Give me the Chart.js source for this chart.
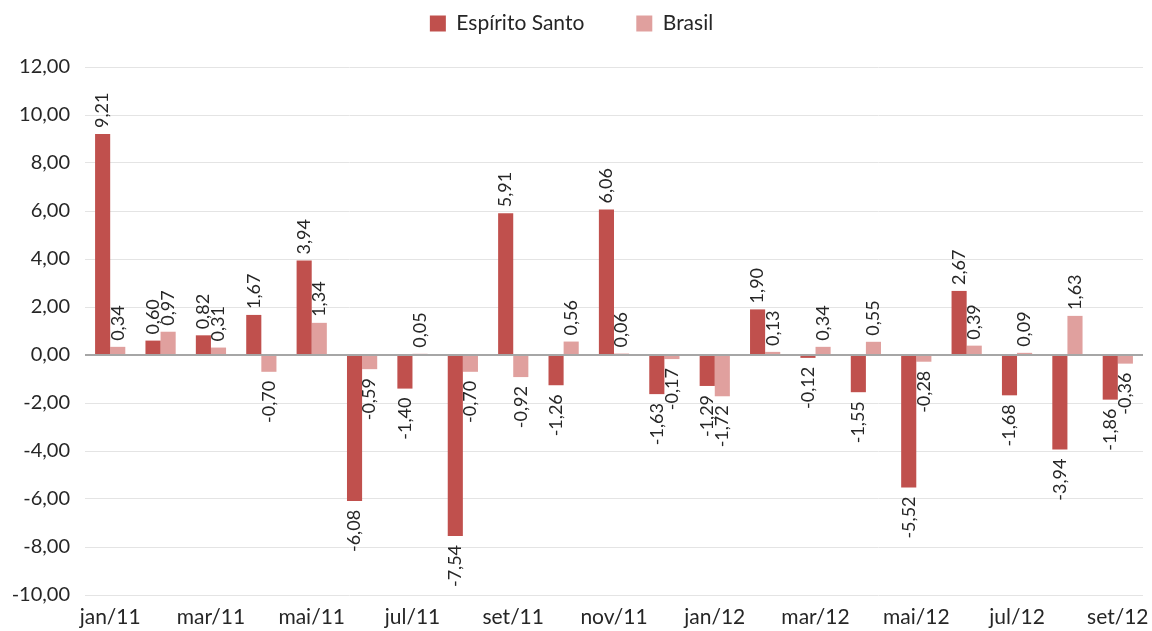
<!DOCTYPE html>
<html>
<head>
<meta charset="utf-8">
<script src="https://cdn.jsdelivr.net/npm/chart.js@4"></script>
<style>
  html, body { margin: 0; padding: 0; background: #fff; }
  #wrap { width: 1152px; height: 631px; }
</style>
</head>
<body>
<div id="wrap"><canvas id="grafico"></canvas></div>
<script>
// dados
const meses = ['jan/11', 'fev/11', 'mar/11', 'abr/11', 'mai/11', 'jun/11', 'jul/11', 'ago/11', 'set/11', 'out/11', 'nov/11', 'dez/11',
               'jan/12', 'fev/12', 'mar/12', 'abr/12', 'mai/12', 'jun/12', 'jul/12', 'ago/12', 'set/12'];
const espiritoSanto = [9.21, 0.60, 0.82, 1.67, 3.94, -6.08, -1.40, -7.54, 5.91, -1.26, 6.06, -1.63,
                       -1.29, 1.90, -0.12, -1.55, -5.52, 2.67, -1.68, -3.94, -1.86];
const brasil = [0.34, 0.97, 0.31, -0.70, 1.34, -0.59, 0.05, -0.70, -0.92, 0.56, 0.06, -0.17,
                -1.72, 0.13, 0.34, 0.55, -0.28, 0.39, 0.09, 1.63, -0.36];
const yTicks = [-10, -8, -6, -4, -2, 0, 2, 4, 6, 8, 10, 12];

const fonte = 'Lato, "Open Sans", sans-serif';
const corTexto = '#262626';
const fmt = v => v.toFixed(2).replace('.', ',');

// legenda: altura fixa para a área do gráfico começar em y=67
const PAD_TOPO = -39;
const LEG_PAD = 52;
const alturaLegenda = {
    id: 'alturaLegenda',
    beforeLayout(chart) {
        const lg = chart.legend;
        if (lg && !lg._fixo) {
            const fitOrig = lg.fit;
            lg.fit = function () {
                fitOrig.call(this);
                this.height = 67 - PAD_TOPO;
            };
            lg._fixo = true;
        }
    }
};

// rótulos verticais em cima/baixo das barras
const rotulos = {
    id: 'rotulos',
    afterDatasetsDraw(chart) {
        const ctx = chart.ctx;
        ctx.save();
        ctx.font = '18px ' + fonte;
        ctx.fillStyle = corTexto;
        ctx.textBaseline = 'middle';
        chart.data.datasets.forEach((ds, i) => {
            const meta = chart.getDatasetMeta(i);
            meta.data.forEach((bar, j) => {
                const v = ds.data[j];
                ctx.save();
                if (v >= 0) {
                    ctx.translate(bar.x, bar.y - 6);
                    ctx.rotate(-Math.PI / 2);
                    ctx.textAlign = 'left';
                } else {
                    ctx.translate(bar.x, bar.y + 9);
                    ctx.rotate(-Math.PI / 2);
                    ctx.textAlign = 'right';
                }
                ctx.fillText(fmt(v), 0, 0);
                ctx.restore();
            });
        });
        ctx.restore();
    }
};

const ctx = document.getElementById('grafico').getContext('2d');
const grafico = new Chart(ctx, {
    type: 'bar',
    data: {
        labels: meses,
        datasets: [
            {
                label: 'Espírito Santo',
                data: espiritoSanto,
                backgroundColor: '#C0504D'
            },
            {
                label: 'Brasil',
                data: brasil,
                backgroundColor: '#E0A09E'
            }
        ]
    },
    options: {
        responsive: true,
        maintainAspectRatio: false,
        animation: false,
        layout: { padding: { top: PAD_TOPO, right: 9, bottom: 0, left: 0 } },
        datasets: {
            bar: { categoryPercentage: 0.6, barPercentage: 1.0 }
        },
        plugins: {
            legend: {
                position: 'top',
                labels: {
                    font: { family: fonte, size: 21 },
                    color: corTexto,
                    boxWidth: 16,
                    boxHeight: 16,
                    padding: LEG_PAD
                }
            },
            tooltip: { enabled: false }
        },
        scales: {
            x: {
                grid: { display: false },
                border: { display: false },
                ticks: {
                    autoSkip: false,
                    maxRotation: 0,
                    color: corTexto,
                    font: { family: fonte, size: 21 },
                    padding: 2,
                    callback: (val, idx) => idx % 2 === 0 ? meses[idx] : ''
                },
                afterFit: s => { s.height = 36; }
            },
            y: {
                min: -10,
                max: 12,
                afterBuildTicks: s => { s.ticks = yTicks.map(v => ({ value: v })); },
                grid: {
                    drawTicks: false,
                    color: c => c.tick && c.tick.value === 0 ? '#A6A6A6' : '#E4E4E4',
                    lineWidth: c => c.tick && c.tick.value === 0 ? 2 : 1
                },
                border: { display: false },
                ticks: {
                    color: corTexto,
                    font: { family: fonte, size: 20 },
                    padding: 15,
                    callback: v => fmt(v)
                },
                afterFit: s => { s.width = 85; }
            }
        }
    },
    plugins: [alturaLegenda, rotulos]
});
</script>
</body>
</html>
